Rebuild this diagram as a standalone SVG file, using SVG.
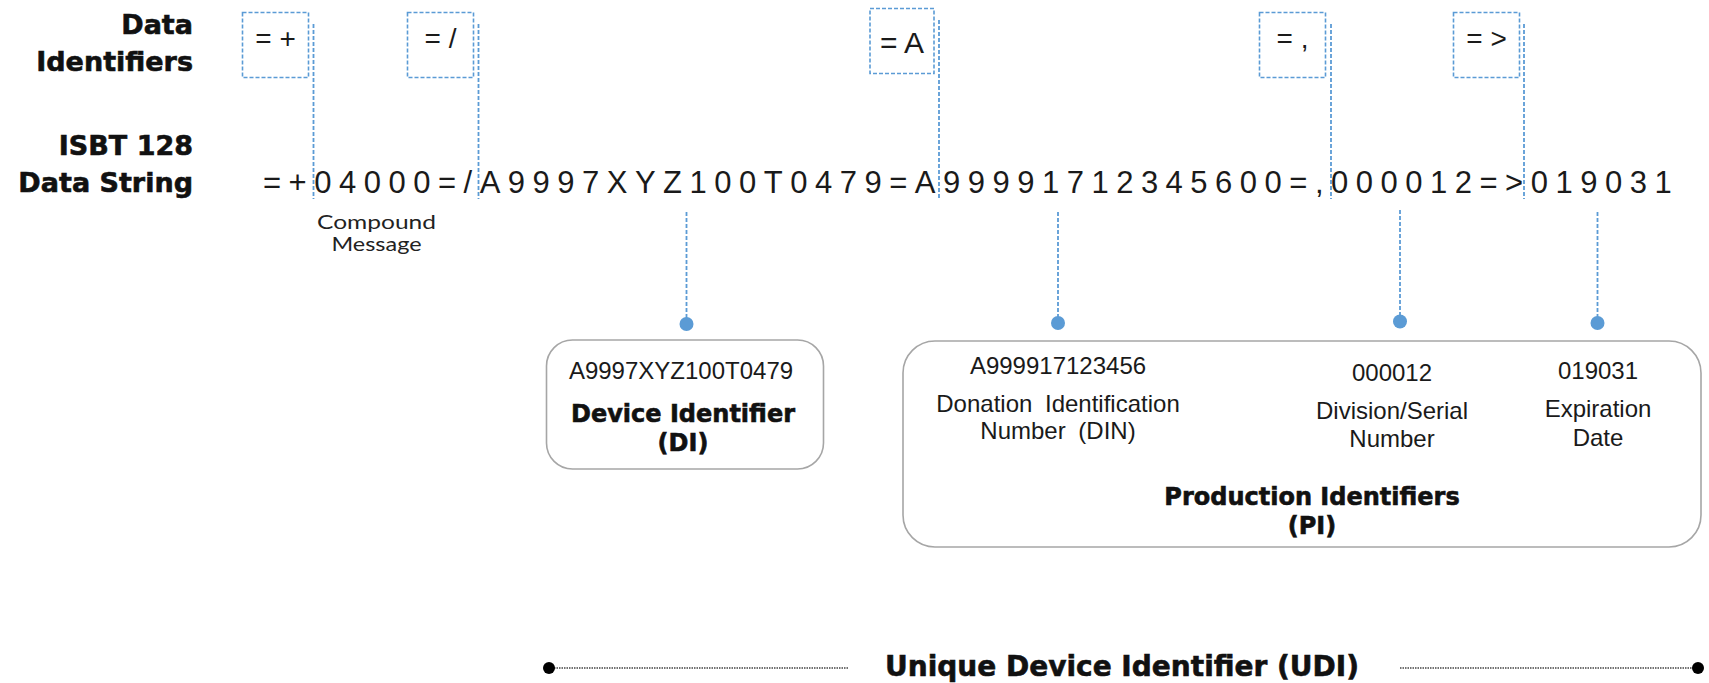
<svg xmlns="http://www.w3.org/2000/svg" width="1709" height="683" viewBox="0 0 1709 683">
<style>
.lbl{font-family:"DejaVu Sans",Verdana,sans-serif;font-weight:bold;fill:#111;stroke:#111;stroke-width:0.6}
.reg{font-family:"Liberation Sans",Arial,sans-serif;fill:#1a1a1a}
.cm{font-family:Lato,"Noto Sans",sans-serif;fill:#222}
.idbox{fill:none;stroke:#5B9BD5;stroke-width:1.6;stroke-dasharray:4 2}
.sep{fill:none;stroke:#5B9BD5;stroke-width:1.8;stroke-dasharray:4 2}
.card{fill:#fff;stroke:#A6A6A6;stroke-width:1.6}
.dot{fill:#5B9BD5}
.udi{stroke:#444;stroke-width:1.4;stroke-dasharray:1.5 1}
</style>
<rect width="1709" height="683" fill="#fff"/>

<g id="row-labels">
<text class="lbl" font-size="27" text-anchor="end" x="193" y="34">Data</text>
<text class="lbl" font-size="27" text-anchor="end" x="193" y="71">Identifiers</text>
<text class="lbl" font-size="27" text-anchor="end" x="193" y="155">ISBT 128</text>
<text class="lbl" font-size="27" text-anchor="end" x="193" y="192">Data String</text>
</g>

<g id="data-identifiers">
<g id="di-plus"><rect class="idbox" x="242.5" y="12.5" width="66" height="65"/><text class="reg" font-size="28" text-anchor="middle" x="275.5" y="47.5">= +</text></g>
<g id="di-slash"><rect class="idbox" x="407.5" y="12.5" width="66" height="65"/><text class="reg" font-size="28" text-anchor="middle" x="440.5" y="47.5">= /</text></g>
<g id="di-A"><rect class="idbox" x="870" y="8.5" width="64" height="65"/><text class="reg" font-size="30" text-anchor="middle" x="902" y="53">= A</text></g>
<g id="di-comma"><rect class="idbox" x="1259.5" y="12.5" width="66" height="65"/><text class="reg" font-size="28" text-anchor="middle" x="1292.5" y="47.5">= ,</text></g>
<g id="di-gt"><rect class="idbox" x="1453.5" y="12.5" width="66" height="65"/><text class="reg" font-size="28" text-anchor="middle" x="1486.5" y="47.5">= &gt;</text></g>
</g>

<g id="data-string">
<text class="reg" font-size="31" letter-spacing="7.5" x="263" y="193">=+04000=/A9997XYZ100T0479=A99991712345600=,000012=&gt;019031</text>
</g>

<g id="compound-message">
<text class="cm" font-size="19" text-anchor="middle" x="376.5" y="229" textLength="119" lengthAdjust="spacingAndGlyphs">Compound</text>
<text class="cm" font-size="19" text-anchor="middle" x="376.5" y="251" textLength="90" lengthAdjust="spacingAndGlyphs">Message</text>
</g>

<g id="connectors">
<line class="sep" x1="313.5" y1="24" x2="313.5" y2="199"/>
<line class="sep" x1="478.5" y1="24" x2="478.5" y2="199"/>
<line class="sep" x1="939" y1="20" x2="939" y2="199"/>
<line class="sep" x1="1331" y1="24" x2="1331" y2="199"/>
<line class="sep" x1="1524" y1="24" x2="1524" y2="199"/>

<line class="sep" x1="686.5" y1="212" x2="686.5" y2="318"/>
<line class="sep" x1="1058" y1="212" x2="1058" y2="318"/>
<line class="sep" x1="1400" y1="210" x2="1400" y2="316"/>
<line class="sep" x1="1597.5" y1="212" x2="1597.5" y2="318"/>
<circle class="dot" cx="686.5" cy="324" r="7"/>
<circle class="dot" cx="1058" cy="323" r="7"/>
<circle class="dot" cx="1400" cy="321.5" r="7"/>
<circle class="dot" cx="1597.5" cy="323" r="7"/>

<line class="udi" x1="549" y1="668" x2="848" y2="668"/>
<line class="udi" x1="1400" y1="668" x2="1698" y2="668"/>
<circle cx="549" cy="668" r="6" fill="#000"/>
<circle cx="1698" cy="668" r="6" fill="#000"/>
</g>

<g id="device-identifier">
<rect class="card" x="546.5" y="340" width="277" height="129" rx="26"/>
<text class="reg" font-size="24" text-anchor="middle" x="681" y="379">A9997XYZ100T0479</text>
<text class="lbl" font-size="24" text-anchor="middle" x="683" y="422">Device Identifier</text>
<text class="lbl" font-size="24" text-anchor="middle" x="683" y="451">(DI)</text>
</g>

<g id="production-identifiers">
<rect class="card" x="903" y="341" width="798" height="206" rx="32"/>
<text class="reg" font-size="24" text-anchor="middle" x="1058" y="374">A999917123456</text>
<text class="reg" font-size="24" text-anchor="middle" word-spacing="6" x="1058" y="412">Donation Identification</text>
<text class="reg" font-size="24" text-anchor="middle" word-spacing="6" x="1058" y="439">Number (DIN)</text>
<text class="reg" font-size="24" text-anchor="middle" x="1392" y="381">000012</text>
<text class="reg" font-size="24" text-anchor="middle" x="1392" y="419">Division/Serial</text>
<text class="reg" font-size="24" text-anchor="middle" x="1392" y="447">Number</text>
<text class="reg" font-size="24" text-anchor="middle" x="1598" y="379">019031</text>
<text class="reg" font-size="24" text-anchor="middle" x="1598" y="417">Expiration</text>
<text class="reg" font-size="24" text-anchor="middle" x="1598" y="446">Date</text>
<text class="lbl" font-size="24" text-anchor="middle" x="1312" y="505">Production Identifiers</text>
<text class="lbl" font-size="24" text-anchor="middle" x="1312" y="534">(PI)</text>
</g>

<g id="udi-label">
<text class="lbl" font-size="28" text-anchor="middle" x="1122" y="676">Unique Device Identifier (UDI)</text>
</g>
</svg>
